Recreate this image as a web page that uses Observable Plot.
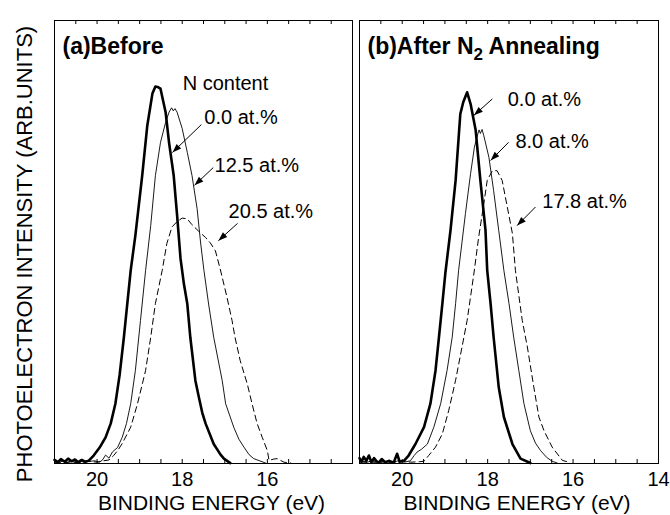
<!DOCTYPE html>
<html>
<head>
<meta charset="utf-8">
<script src="https://cdn.jsdelivr.net/npm/d3@7"></script>
<script src="https://cdn.jsdelivr.net/npm/@observablehq/plot@0.6"></script>
<style>
  body { margin: 0; background: #fff; }
  #chart { position: relative; width: 670px; height: 515px; font-family: "Liberation Sans", Arial, Helvetica, sans-serif; color: #000; }
  #chart svg { position: absolute; top: 0; overflow: visible; background: transparent; }
  #ylabel { position: absolute; left: 25px; top: 254px; transform: translate(-50%, -50%) rotate(-90deg);
            white-space: nowrap; font-size: 22px; line-height: 1; }
</style>
</head>
<body>
<div id="chart"><div id="ylabel">PHOTOELECTRON INTENSITY (ARB.UNITS)</div></div>
<script>
// Binding-energy ticks (eV)
const minorTicks = [20.5, 20, 19.5, 19, 18.5, 18, 17.5, 17, 16.5, 16, 15.5, 15, 14.5];
const tickLabelsBefore = [20, 18, 16];
const tickLabelsAfter = [20, 18, 16, 14];

// (a) as deposited: [binding energy (eV), intensity (arb.)]
const before00 = [[21.00,0.8],[20.92,0.3],[20.85,1.0],[20.76,0.4],[20.68,1.1],[20.60,0.5],[20.52,0.9],[20.44,0.3],[20.36,0.8],[20.28,0.4],[20.20,0.6],[20.08,1.8],[19.94,3.6],[19.80,5.9],[19.68,9.0],[19.57,13.5],[19.47,20.0],[19.37,28.5],[19.29,36.1],[19.21,43.6],[19.10,51.5],[18.94,65.0],[18.82,76.3],[18.70,83.5],[18.63,85.1],[18.58,85.0],[18.51,84.6],[18.39,79.3],[18.31,72.5],[18.20,65.0],[18.12,56.0],[18.04,46.3],[17.96,40.5],[17.88,36.0],[17.81,28.5],[17.69,18.7],[17.61,15.0],[17.53,11.5],[17.45,9.0],[17.26,4.4],[17.10,2.0],[17.02,1.1],[16.87,0.1]];
const before125 = [[21.00,0.4],[20.90,0.2],[20.80,0.6],[20.70,0.3],[20.60,0.5],[20.50,0.2],[20.40,0.5],[20.30,0.3],[20.18,0.5],[20.05,0.6],[19.95,0.3],[19.88,0.7],[19.80,1.9],[19.72,1.2],[19.64,2.6],[19.52,3.6],[19.41,5.9],[19.31,9.0],[19.21,13.5],[19.10,21.0],[18.98,32.3],[18.86,43.6],[18.74,53.7],[18.63,65.0],[18.51,72.5],[18.39,77.0],[18.31,79.3],[18.25,80.3],[18.21,79.6],[18.17,80.1],[18.12,79.3],[18.00,75.6],[17.88,70.2],[17.77,65.0],[17.65,57.5],[17.57,50.0],[17.49,43.6],[17.38,36.0],[17.26,28.5],[17.06,18.7],[16.98,13.5],[16.79,8.2],[16.67,5.5],[16.55,3.7],[16.43,2.0],[16.32,1.1],[16.04,0.1]];
const before205 = [[21.00,0.3],[20.80,0.1],[20.60,0.4],[20.40,0.2],[20.20,0.5],[20.00,0.3],[19.85,0.6],[19.72,0.8],[19.61,1.8],[19.51,3.0],[19.41,4.5],[19.21,8.2],[19.05,13.5],[18.86,21.0],[18.74,28.5],[18.63,36.1],[18.47,43.6],[18.36,49.7],[18.24,53.4],[18.12,54.6],[18.00,55.4],[17.88,55.2],[17.77,53.9],[17.61,52.4],[17.45,51.0],[17.34,49.8],[17.22,48.0],[17.11,44.0],[16.95,37.6],[16.83,32.3],[16.76,28.5],[16.64,23.3],[16.47,17.9],[16.36,13.5],[16.24,9.0],[16.12,5.9],[16.00,2.9],[15.96,0.7],[15.85,1.0],[15.77,1.1],[15.61,0.3],[15.45,0.1]];

// (b) after N2 annealing
const after00 = [[21.00,1.2],[20.95,0.4],[20.90,1.5],[20.84,0.6],[20.78,1.8],[20.72,0.3],[20.66,1.2],[20.60,0.5],[20.55,0.2],[20.48,1.0],[20.40,0.3],[20.30,0.6],[20.20,0.2],[20.12,2.2],[20.06,0.4],[19.96,0.6],[19.85,1.8],[19.69,4.4],[19.49,8.2],[19.34,13.5],[19.22,21.0],[19.14,28.5],[19.06,36.1],[18.99,43.0],[18.87,52.6],[18.75,63.9],[18.64,78.9],[18.57,81.6],[18.48,83.8],[18.40,81.2],[18.28,75.2],[18.17,63.9],[18.05,52.6],[18.01,43.6],[17.93,36.0],[17.86,28.5],[17.74,17.2],[17.62,10.5],[17.42,4.4],[17.23,1.1],[17.00,0.1]];
const after80 = [[21.00,0.5],[20.85,0.2],[20.70,0.6],[20.55,0.3],[20.40,0.5],[20.25,0.2],[20.10,0.6],[19.95,0.3],[19.81,0.6],[19.72,1.8],[19.65,2.6],[19.55,3.2],[19.41,4.4],[19.26,8.2],[19.10,13.5],[18.95,21.0],[18.83,28.5],[18.75,36.1],[18.68,43.6],[18.52,56.4],[18.40,65.4],[18.31,71.4],[18.23,74.4],[18.20,75.3],[18.17,74.5],[18.13,75.4],[18.09,74.0],[17.97,69.1],[17.86,61.6],[17.74,52.6],[17.62,43.6],[17.50,36.1],[17.39,28.5],[17.27,21.0],[17.15,13.5],[17.00,7.4],[16.88,4.6],[16.76,2.9],[16.62,1.4],[16.49,0.5],[16.37,0.1]];
const after178 = [[21.00,0.3],[20.80,0.5],[20.60,0.2],[20.40,0.4],[20.20,0.2],[20.00,0.5],[19.80,0.3],[19.60,0.4],[19.49,0.5],[19.38,1.8],[19.22,3.7],[19.06,6.7],[18.91,12.0],[18.75,18.8],[18.60,26.3],[18.48,32.3],[18.32,43.0],[18.21,51.1],[18.09,58.6],[18.01,63.9],[17.89,66.1],[17.78,66.1],[17.66,63.9],[17.54,57.9],[17.42,51.9],[17.35,43.6],[17.19,32.3],[17.07,26.3],[16.92,17.3],[16.80,10.5],[16.68,7.4],[16.49,3.7],[16.25,0.7],[16.10,0.3]];

// Curve labels and their arrows (eV, intensity)
const beforeNotes = [
  {text: "N content", e: 17.99, v: 84.4},
  {text: "0.0 at.%", e: 17.48, v: 76.7},
  {text: "12.5 at.%", e: 17.24, v: 65.7},
  {text: "20.5 at.%", e: 16.91, v: 55.5}
];
const beforeArrows = [
  {e1: 17.55, v1: 76.5, e2: 18.23, v2: 70.2},
  {e1: 17.27, v1: 66.8, e2: 17.71, v2: 62.8},
  {e1: 16.70, v1: 54.2, e2: 17.15, v2: 50.3}
];
const afterNotes = [
  {text: "0.0 at.%", e: 17.53, v: 80.8},
  {text: "8.0 at.%", e: 17.35, v: 71.3},
  {text: "17.8 at.%", e: 16.72, v: 57.6}
];
const afterArrows = [
  {e1: 17.89, v1: 82.3, e2: 18.32, v2: 78.6},
  {e1: 17.51, v1: 72.5, e2: 17.93, v2: 68.4},
  {e1: 16.88, v1: 57.9, e2: 17.31, v2: 53.7}
];

const titleBefore = "(a)Before";
const titleAfter = "(b)After N2 Annealing";
const xLabel = "BINDING ENERGY (eV)";

// Layout
const H = 515, MT = 20, MB = 52;
const X_DOMAIN = [21, 14], Y_DOMAIN = [0, 100];
const FONT = '"Liberation Sans", Arial, Helvetica, sans-serif';

// Filled, narrow arrowhead with its apex at the anchor point, pointing up before rotation
const arrowHead = {
  draw(context, size) {
    const l = Math.sqrt(size / Math.PI);
    const w = l * 0.36;
    context.moveTo(0, 0);
    context.lineTo(-w, l);
    context.lineTo(w, l);
    context.closePath();
  }
};

const rows = (pairs) => pairs.map(([e, v]) => ({e, v}));

function panel({width, marginLeft, marginRight, series, notes, arrows, title, tickLabels}) {
  const frameH = H - MT - MB;
  const sx = d3.scaleLinear(X_DOMAIN, [marginLeft, width - marginRight]);
  const sy = d3.scaleLinear(Y_DOMAIN, [H - MB, MT]);
  const heads = arrows.map((a) => ({
    ...a,
    angle: Math.atan2(sx(a.e2) - sx(a.e1), -(sy(a.v2) - sy(a.v1))) * 180 / Math.PI
  }));
  const [thick, thin, dashed] = series;
  return Plot.plot({
    width, height: H, marginLeft, marginRight, marginTop: MT, marginBottom: MB,
    x: {domain: X_DOMAIN, axis: null},
    y: {domain: Y_DOMAIN, axis: null},
    style: {fontFamily: FONT, background: "transparent", overflow: "visible", color: "black"},
    marks: [
      Plot.line(rows(dashed), {x: "e", y: "v", stroke: "black", strokeWidth: 1, strokeDasharray: "6,4"}),
      Plot.line(rows(thin), {x: "e", y: "v", stroke: "black", strokeWidth: 0.9}),
      Plot.line(rows(thick), {x: "e", y: "v", stroke: "black", strokeWidth: 2.6, strokeLinejoin: "round"}),
      Plot.frame({stroke: "black", strokeWidth: 1}),
      Plot.tickX(minorTicks, {x: (d) => d, insetTop: frameH - 4, stroke: "black"}),
      Plot.tickX(minorTicks, {x: (d) => d, insetBottom: frameH - 4, stroke: "black"}),
      Plot.text(tickLabels, {x: (d) => d, text: (d) => String(d), frameAnchor: "bottom", lineAnchor: "top", dy: 8, fontSize: 20}),
      Plot.text([xLabel], {text: (d) => d, frameAnchor: "bottom", lineAnchor: "bottom", dx: 8, dy: 46, fontSize: 21}),
      Plot.text([title], {text: (d) => d, frameAnchor: "top-left", textAnchor: "start", lineAnchor: "bottom", dx: 8, dy: 33, fontSize: 23, fontWeight: "bold"}),
      Plot.text(notes, {x: "e", y: "v", text: "text", textAnchor: "start", lineAnchor: "bottom", fontSize: 20}),
      Plot.link(arrows, {x1: "e1", y1: "v1", x2: "e2", y2: "v2", stroke: "black", strokeWidth: 1}),
      Plot.dot(heads, {x: "e2", y: "v2", symbol: arrowHead, r: 9, rotate: "angle", fill: "black", stroke: "none"})
    ]
  });
}

const chart = document.getElementById("chart");

const left = panel({
  width: 356, marginLeft: 54, marginRight: 4,
  series: [before00, before125, before205],
  notes: beforeNotes, arrows: beforeArrows,
  title: titleBefore, tickLabels: tickLabelsBefore
});
left.style.left = "0px";
chart.appendChild(left);

const right = panel({
  width: 314, marginLeft: 3, marginRight: 12,
  series: [after00, after80, after178],
  notes: afterNotes, arrows: afterArrows,
  title: titleAfter, tickLabels: tickLabelsAfter
});
right.style.left = "356px";
chart.appendChild(right);

// Set the "2" of N2 as a subscript
d3.select(right).selectAll("text")
  .filter(function () { return this.textContent === titleAfter; })
  .each(function () {
    const t = d3.select(this);
    t.text(null);
    t.append("tspan").text("(b)After N");
    t.append("tspan").attr("dy", 6).attr("font-size", "17px").text("2");
    t.append("tspan").attr("dy", -6).text(" Annealing");
  });
</script>
</body>
</html>
